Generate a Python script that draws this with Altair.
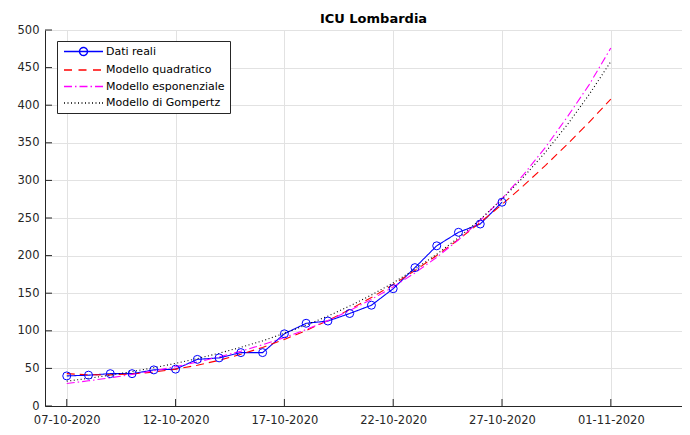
import altair as alt
import pandas as pd

# ---- data ----
data_dates = ["2020-10-07", "2020-10-08", "2020-10-09", "2020-10-10", "2020-10-11",
              "2020-10-12", "2020-10-13", "2020-10-14", "2020-10-15", "2020-10-16",
              "2020-10-17", "2020-10-18", "2020-10-19", "2020-10-20", "2020-10-21",
              "2020-10-22", "2020-10-23", "2020-10-24", "2020-10-25", "2020-10-26",
              "2020-10-27"]
data_values = [40, 41, 43, 43, 48, 49, 62, 64, 71, 71, 96, 110, 113, 123, 134,
               156, 184, 213, 231, 242, 271]

model_dates = data_dates + ["2020-10-28", "2020-10-29", "2020-10-30", "2020-10-31", "2020-11-01"]
quad_values = [43, 41.5, 41.4, 42.6, 45.1, 49.0, 54.2, 60.8, 68.7, 77.9, 88.5, 100.4,
               113.7, 128.3, 144.2, 161.5, 180.1, 200.1, 221.4, 244.0, 268.0, 293.3,
               320.0, 348.0, 377.3, 408.0]
expo_values = [30, 33.5, 37.5, 41.9, 46.8, 52.3, 58.4, 65.3, 72.9, 81.5, 91.0, 101.7,
               113.6, 126.9, 141.8, 158.4, 177.0, 197.7, 220.9, 246.8, 275.7, 308.0,
               344.1, 384.4, 427.0, 476.0]
gomp_values = [33.0, 36.8, 41.1, 45.8, 50.9, 56.7, 63.1, 70.2, 78.0, 86.6, 96.8, 107.6,
               119.6, 132.9, 147.6, 163.8, 181.9, 201.8, 223.8, 248.2, 275.0, 304.8,
               337.7, 374.0, 414.0, 458.0]

series_names = ["Dati reali", "Modello quadratico", "Modello esponenziale", "Modello di Gompertz"]
series_colors = ["#0000ff", "#ff0000", "#ff00ff", "#000000"]
series_dashes = [[1, 0], [8, 5], [8, 3, 1.5, 3], [1, 2.5]]

# legend glyphs (unit = 4 px at symbolSize 64): solid+circle, dashed, dash-dot, dotted
legend_solid_marker = "M-4.875,0L4.875,0M1,0A1,1,0,1,1,-1,0A1,1,0,1,1,1,0"
legend_dashed = "M-4.875,0L-2.375,0M-1.25,0L1.25,0M2.375,0L4.875,0"
legend_dashdot = ("M-4.875,0L-2.875,0M-2.125,0L-1.75,0M-1,0L1,0"
                  "M1.75,0L2.125,0M2.875,0L4.875,0")
dot_starts = [-4.875, -4.0, -3.125, -2.25, -1.375, -0.5, 0.375, 1.25, 2.125, 3.0, 3.875, 4.625]
legend_dotted = "".join("M%g,0L%g,0" % (s, s + 0.25) for s in dot_starts)
series_shapes = [legend_solid_marker, legend_dashed, legend_dashdot, legend_dotted]

x_tick_days = [(10, 7), (10, 12), (10, 17), (10, 22), (10, 27), (11, 1)]
y_ticks = [0, 50, 100, 150, 200, 250, 300, 350, 400, 450, 500]

# ---- tables ----
rows = []
for d, v in zip(data_dates, data_values):
    rows.append({"series": series_names[0], "date": d, "value": v})
for name, vals in zip(series_names[1:], [quad_values, expo_values, gomp_values]):
    for d, v in zip(model_dates, vals):
        rows.append({"series": name, "date": d, "value": v})
df = pd.DataFrame(rows)
df_pts = df[df["series"] == series_names[0]]
# legend-only rows (no position, so nothing is drawn)
df_leg = pd.DataFrame({"series": series_names, "date": [None] * 4, "value": [None] * 4})

x_tick_dt = [alt.DateTime(year=2020, month=m, date=d, utc=True) for m, d in x_tick_days]
x_tick_df = pd.DataFrame({"date": ["2020-%02d-%02d" % (m, d) for m, d in x_tick_days]})
y_tick_df = pd.DataFrame({"value": y_ticks})

W, H = 637, 376
AX = "#262626"
FONT = "DejaVu Sans"

x_scale = alt.Scale(type="utc",
                    domain=[alt.DateTime(year=2020, month=10, date=6, utc=True),
                            alt.DateTime(year=2020, month=11, date=4, hours=6, minutes=30, utc=True)])
y_scale = alt.Scale(domain=[0, 500], nice=False)

x_enc = alt.X("date:T", scale=x_scale, title=None,
              axis=alt.Axis(values=x_tick_dt, labelExpr="utcFormat(datum.value, '%d-%m-%Y')",
                            ticks=False, labelPadding=8, grid=True, labelAngle=0,
                            labelOverlap=False))
y_enc = alt.Y("value:Q", scale=y_scale, title=None,
              axis=alt.Axis(values=y_ticks, ticks=False, labelPadding=6, grid=True,
                            labelOverlap=False))

color_scale = alt.Scale(domain=series_names, range=series_colors)
leg = alt.Legend(title=None)

lines = alt.Chart(df).mark_line(strokeWidth=1.1, clip=True).encode(
    x=x_enc, y=y_enc,
    color=alt.Color("series:N", scale=color_scale, legend=leg),
    strokeDash=alt.StrokeDash("series:N",
                              scale=alt.Scale(domain=series_names, range=series_dashes),
                              legend=None),
)

legend_layer = alt.Chart(df_leg).mark_point(filled=False, size=64, strokeWidth=1.4, opacity=1).encode(
    x=x_enc, y=y_enc,
    color=alt.Color("series:N", scale=color_scale, legend=leg),
    shape=alt.Shape("series:N", scale=alt.Scale(domain=series_names, range=series_shapes),
                    legend=leg),
)

points = alt.Chart(df_pts).mark_point(filled=False, size=64, strokeWidth=1, opacity=1,
                                      shape="circle", color="#0000ff").encode(
    x=x_enc, y=y_enc,
)

xticks = alt.Chart(x_tick_df).mark_rule(color=AX, strokeWidth=1).encode(
    x=x_enc, y=alt.value(H), y2=alt.value(H - 7))
yticks = alt.Chart(y_tick_df).mark_rule(color=AX, strokeWidth=1).encode(
    y=y_enc, x=alt.value(0), x2=alt.value(7))

chart = alt.layer(lines, legend_layer, points, xticks, yticks).properties(
    width=W, height=H,
    title=alt.Title("ICU Lombardia", fontSize=13, fontWeight="bold", color="#000000",
                    font=FONT, anchor="middle", offset=-2, dx=10),
    padding={"left": 37, "top": 22, "right": 0, "bottom": 20},
    autosize=alt.AutoSizeParams(type="none"),
).configure_view(stroke=None).configure_axis(
    domainColor=AX, domainWidth=1, gridColor="#e2e2e2", gridWidth=1,
    labelFont=FONT, labelFontSize=11.5, labelColor=AX,
).configure_legend(
    orient="none", legendX=12, legendY=11,
    fillColor="#ffffff", strokeColor=AX, strokeWidth=1,
    padding=5, labelFont=FONT, labelFontSize=11, labelColor="#000000",
    symbolSize=64, symbolStrokeWidth=1.4, rowPadding=4.5,
    symbolOffset=16, labelOffset=17, symbolFillColor="transparent",
)

chart.save("out.html", embed_options={"renderer": "svg", "actions": False})
